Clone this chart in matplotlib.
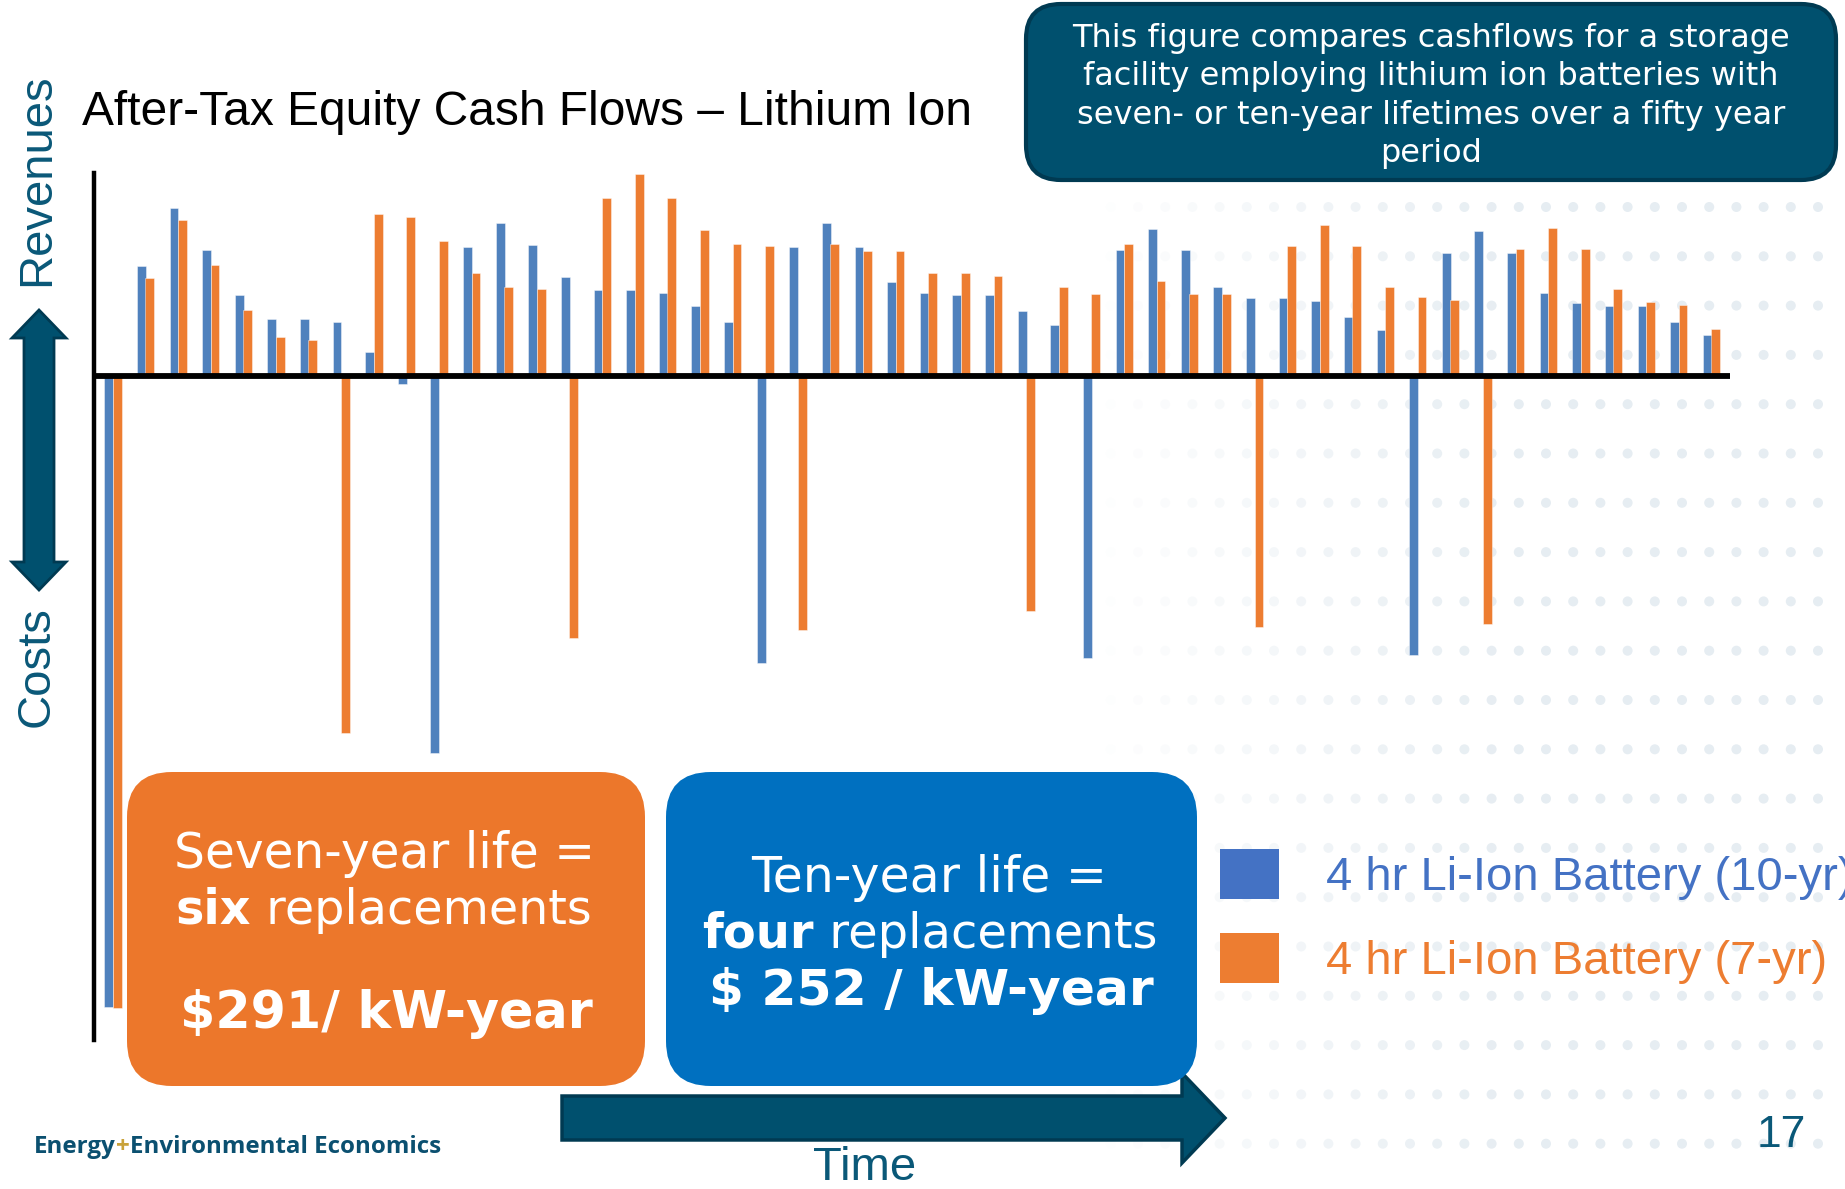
import numpy as np
import matplotlib.pyplot as plt
from matplotlib.patches import FancyBboxPatch, Polygon, Patch

#--------------------------------------------------------------------------------------------------
# Data (relative after-tax equity cash flow)
years = np.arange(50)

cash_10yr = [-631, 110, 168, 126, 81, 57, 57, 54, 24, -8,
             -377, 129, 153, 131, 99, 86, 86, 83, 70, 54,
             -287, 129, 153, 129, 94, 83, 81, 81, 65, 51,
             -282, 126, 147, 126, 89, 78, 78, 75, 59, 46,
             -279, 123, 145, 123, 83, 73, 70, 70, 54, 41]

cash_7yr = [-632, 98, 156, 111, 66, 39, 36, -357, 162, 159,
            135, 103, 89, 87, -262, 178, 202, 178, 146, 132,
            130, -254, 132, 125, 125, 103, 103, 100, -235, 89,
            82, 132, 95, 82, 82, -251, 130, 151, 130, 89,
            79, 76, -248, 127, 148, 127, 87, 74, 71, 47]

series_labels = ["4 hr Li-Ion Battery (10-yr)", "4 hr Li-Ion Battery (7-yr)"]

#--------------------------------------------------------------------------------------------------
# Colours / fonts
BAR_BLUE = "#4F81BD"
BAR_ORANGE = "#ED7D31"
LEG_BLUE = "#4472C4"
TEAL = "#00506E"
TEAL_EDGE = "#003A52"
TEAL_TEXT = "#0A5878"
ARIAL = "Liberation Sans"
VERDANA = "DejaVu Sans"

W, H = 1845, 1189
fig = plt.figure(figsize=(W / 100, H / 100), dpi=100)

# background layer in pixel coordinates (y down)
bg = fig.add_axes([0, 0, 1, 1], zorder=0)
bg.set_xlim(0, W)
bg.set_ylim(H, 0)
bg.axis("off")

# dotted decoration on the right
dx = 1818 - 27.2 * np.arange(28)
dy = 207 + 49.3 * np.arange(20)
gx, gy = np.meshgrid(dx, dy)
alpha = np.clip((gx.ravel() - 1090) / 420, 0, 1)
dot_cols = np.zeros((alpha.size, 4))
dot_cols[:, :3] = [0.90, 0.93, 0.95]
dot_cols[:, 3] = alpha
bg.scatter(gx.ravel(), gy.ravel(), s=52, c=dot_cols, linewidths=0, zorder=1)

#--------------------------------------------------------------------------------------------------
# Chart
ax = fig.add_axes([94 / W, (H - 1040) / H, (1730 - 94) / W, (1040 - 173) / H], zorder=1)
ax.patch.set_alpha(0)

bw = 0.27
ax.bar(years - 0.13, cash_10yr, bw, color=BAR_BLUE, edgecolor=(1, 1, 1, 0.5), linewidth=0.6, zorder=2)
ax.bar(years + 0.13, cash_7yr, bw, color=BAR_ORANGE, edgecolor=(1, 1, 1, 0.5), linewidth=0.6, zorder=2)
ax.axhline(0, color="black", lw=4.2, zorder=3)

ax.set_xlim(-0.58, 49.57)
ax.set_ylim(-664, 203)
ax.set_xticks([])
ax.set_yticks([])
for s in ["top", "right", "bottom"]:
    ax.spines[s].set_visible(False)
ax.spines["left"].set_linewidth(3.2)

leg = ax.legend([Patch(facecolor=LEG_BLUE), Patch(facecolor=BAR_ORANGE)], series_labels,
                loc="upper left", bbox_to_anchor=(1220 / W, 1 - 849 / H), bbox_transform=fig.transFigure,
                frameon=False, prop={"family": ARIAL, "size": 34}, handlelength=1.25, handleheight=1.26,
                handletextpad=1.0, labelspacing=0.7, borderpad=0, borderaxespad=0)
for t, c in zip(leg.get_texts(), [LEG_BLUE, BAR_ORANGE]):
    t.set_color(c)

#--------------------------------------------------------------------------------------------------
# Text and shapes
renderer = fig.canvas.get_renderer()


def rich_line(x, y, parts, size, family, ha="center"):
    texts = [bg.text(0, y, s, fontsize=size, fontweight=wt, color=c, family=family,
                     ha="left", va="baseline", zorder=5) for s, wt, c in parts]
    widths = [t.get_window_extent(renderer).width for t in texts]
    x0 = x - sum(widths) / 2 if ha == "center" else x
    for t, w in zip(texts, widths):
        t.set_x(x0)
        x0 += w


bg.text(82, 125, "After-Tax Equity Cash Flows \u2013 Lithium Ion", fontsize=34.5, family=ARIAL,
        ha="left", va="baseline")
bg.text(37, 180, "Revenues", fontsize=34, family=ARIAL, color=TEAL_TEXT, rotation=90,
        ha="center", va="center")
bg.text(37, 667, "Costs", fontsize=34, family=ARIAL, color=TEAL_TEXT, rotation=90,
        ha="center", va="center")

# vertical double arrow
cx, top, bot, hl, hw, sw = 39, 310, 590, 28, 27, 15
bg.add_patch(Polygon([(cx, top), (cx + hw, top + hl), (cx + sw, top + hl), (cx + sw, bot - hl),
                      (cx + hw, bot - hl), (cx, bot), (cx - hw, bot - hl), (cx - sw, bot - hl),
                      (cx - sw, top + hl), (cx - hw, top + hl)],
                     closed=True, facecolor=TEAL, edgecolor=TEAL_EDGE, lw=2, zorder=3))

# time arrow
x0, x1, tip, cy, sh, hh = 562, 1182, 1225, 1118, 22, 45
bg.add_patch(Polygon([(x0, cy - sh), (x1, cy - sh), (x1, cy - hh), (tip, cy), (x1, cy + hh),
                      (x1, cy + sh), (x0, cy + sh)],
                     closed=True, facecolor=TEAL, edgecolor=TEAL_EDGE, lw=2.5, zorder=3))
bg.text(865, 1180, "Time", fontsize=34, family=ARIAL, color=TEAL_TEXT, ha="center", va="baseline")

# note box
bg.add_patch(FancyBboxPatch((1026, 4), 810, 176, boxstyle="round,pad=0,rounding_size=35",
                            facecolor=TEAL, edgecolor=TEAL_EDGE, lw=3, zorder=3))
bg.text(1431, 96, "This figure compares cashflows for a storage\nfacility employing lithium ion batteries with\n"
        "seven- or ten-year lifetimes over a fifty year\nperiod", fontsize=23, family=VERDANA,
        color="white", ha="center", va="center", linespacing=1.3, zorder=5)

# replacement boxes
bg.add_patch(FancyBboxPatch((127, 772), 518, 314, boxstyle="round,pad=0,rounding_size=45",
                            facecolor="#EC772B", edgecolor="none", zorder=3))
bg.add_patch(FancyBboxPatch((666, 772), 531, 314, boxstyle="round,pad=0,rounding_size=45",
                            facecolor="#0070C0", edgecolor="none", zorder=3))

rich_line(384, 868, [("Seven-year life =", "normal", "white")], 35, VERDANA)
rich_line(384, 924, [("six", "bold", "white"), (" replacements", "normal", "white")], 34.3, VERDANA)
rich_line(386, 1028, [("$291/ kW-year", "bold", "white")], 36.5, VERDANA)
rich_line(929, 892, [("Ten-year life =", "normal", "white")], 35.3, VERDANA)
rich_line(930, 948, [("four", "bold", "white"), (" replacements", "normal", "white")], 34.6, VERDANA)
rich_line(931, 1005, [("$ 252 / kW-year", "bold", "white")], 36.3, VERDANA)

# footer
rich_line(34, 1153, [("Energy", "bold", "#0B5070"), ("+", "bold", "#C9A23A"),
                     ("Environmental Economics", "bold", "#0B5070")], 17.4, "Open Sans", ha="left")
bg.text(1781, 1147, "17", fontsize=32, family=ARIAL, color=TEAL_TEXT, ha="center", va="baseline")

fig.savefig("out.png", dpi=100)
